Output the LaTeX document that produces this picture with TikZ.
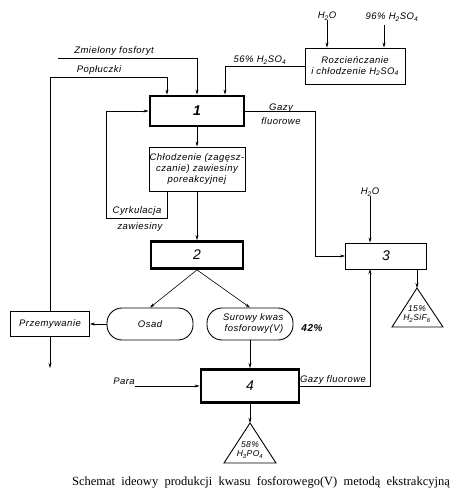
\documentclass[tikz,border=0pt]{standalone}
\usepackage{fontspec}
\setmainfont{Liberation Sans}[LetterSpace=5]
\newfontfamily\capfont{Liberation Serif}
\newcommand\sub[1]{\textsubscript{#1}}
\usetikzlibrary{arrows.meta}

\tikzset{
  lbl/.style={font=\fontsize{9.5}{10}\selectfont\itshape, inner sep=0pt, align=center},
  heavybox/.style={draw, line width=2.8pt, inner sep=0pt, font=\fontsize{14}{14}\selectfont\itshape},
  thinbox/.style={draw, line width=0.9pt, inner sep=0pt, align=center, font=\fontsize{9.5}{11}\selectfont\itshape},
  pill/.style={thinbox, rounded corners=15pt},
  flow/.style={line width=0.6pt, -{Stealth[length=5pt,width=3pt]}},
}

\begin{document}
\begin{tikzpicture}[x=1pt,y=-1pt]
\useasboundingbox (0,0) rectangle (454,502);

% process boxes
\node[heavybox, minimum width=94pt, minimum height=30pt] (b1) at (197,111) {\bfseries 1};
\node[thinbox, minimum width=96pt, minimum height=44pt] (chl) at (197,169) {Chłodzenie (zagęsz-\\czanie) zawiesiny\\poreakcyjnej};
\node[heavybox, minimum width=92pt, minimum height=27pt] (b2) at (197,255) {2};
\node[thinbox, minimum width=81pt, minimum height=26pt, font=\fontsize{14}{14}\selectfont\itshape] (b3) at (386,256) {3};
\node[heavybox, minimum width=98pt, minimum height=33pt] (b4) at (250,386) {4};
\node[thinbox, minimum width=100pt, minimum height=36pt] (rozc) at (355,66) {Rozcieńczanie\\i chłodzenie H\sub{2}SO\sub{4}};
\node[thinbox, minimum width=79pt, minimum height=25pt] (prz) at (50,324) {Przemywanie};
\node[pill, minimum width=86pt, minimum height=32pt] (osad) at (150,324) {Osad};
\node[pill, minimum width=86pt, minimum height=32pt, align=right] (sur) at (250,324) {Surowy kwas\\\hspace*{8pt}fosforowy(V)};

% products
\coordinate (t3) at (417,288);
\draw[line width=0.9pt] (t3) -- (443,327) -- (392,327) -- cycle;
\node[lbl, font=\fontsize{8.5}{9.5}\selectfont\itshape] (p3) at (417,314) {15\%\\H\sub{2}SiF\sub{6}};
\coordinate (t4) at (250,423);
\draw[line width=0.9pt] (t4) -- (276,463) -- (224,463) -- cycle;
\node[lbl, font=\fontsize{8.5}{9.5}\selectfont\itshape] (p4) at (250,450) {58\%\\H\sub{3}PO\sub{4}};

% inputs and labels
\node[lbl] (zmi) at (114,51) {Zmielony fosforyt};
\node[lbl] (pop) at (99,70) {Popłuczki};
\node[lbl] (h56) at (260,60) {56\% H\sub{2}SO\sub{4}};
\node[lbl] (h2oa) at (327,16) {H\sub{2}O};
\node[lbl] (h96) at (392,17) {96\% H\sub{2}SO\sub{4}};
\node[lbl] (gz1) at (281,114) {Gazy\\[4pt]fluorowe};
\node[lbl] (h2ob) at (370,192) {H\sub{2}O};
\node[lbl] (cyr) at (137,211) {Cyrkulacja};
\node[lbl] (zaw) at (140,227) {zawiesiny};
\node[lbl, font=\fontsize{10}{10}\selectfont\bfseries\itshape] (pr42) at (312,328) {42\%};
\node[lbl] (para) at (124,381) {Para};
\node[lbl] (gz2) at (333,380) {Gazy fluorowe};

\coordinate (zm) at (58,58);
\coordinate (pl) at (167,77);
\coordinate (s96) at (384,25);
\coordinate (g1) at (315,256);
\coordinate (g2) at (370,269);
\coordinate (cy) at (106,218);
\coordinate (ot) at (50,368);

% connectors
\draw[flow] (zm) -| (b1.north);
\draw[flow] (prz.north) |- (pl) -- (pl |- b1.north);
\draw[flow] (rozc.west) -| ([xshift=28pt]b1.north);
\draw[flow] (h2oa.south) -- (h2oa.south |- rozc.north);
\draw[flow] (s96) -- (s96 |- rozc.north);
\draw[flow] (b1.east) -| (g1) -- (b3.west);
\draw[flow] (h2ob.south) -- (h2ob.south |- b3.north);
\draw[flow] (b3.south -| t3) -- (t3);
\draw[flow] (b4.east) -| (g2);
\draw[flow] (b1.south) -- (chl.north);
\draw[flow] (chl.south) -- (b2.north);
\draw[flow] ([xshift=-30pt]chl.south) |- (cy) |- (b1.west);
\draw[flow] (b2.south) -- (osad.north);
\draw[flow] (b2.south) -- (sur.north);
\draw[flow] (osad.west) -- (prz.east);
\draw[flow] (prz.south) -- (ot);
\draw[flow] (sur.south) -- (b4.north);
\draw[flow] (para.east |- b4.west) -- (b4.west);
\draw[flow] (b4.south) -- (t4);

% caption
\node[font=\capfont\fontsize{12.5}{12}\selectfont, inner sep=0pt] (cap) at (261,482)
  {Schemat\ \ ideowy\ \ produkcji\ \ kwasu\ \ fosforowego(V)\ \ metodą\ \ ekstrakcyjną};
\end{tikzpicture}
\end{document}
